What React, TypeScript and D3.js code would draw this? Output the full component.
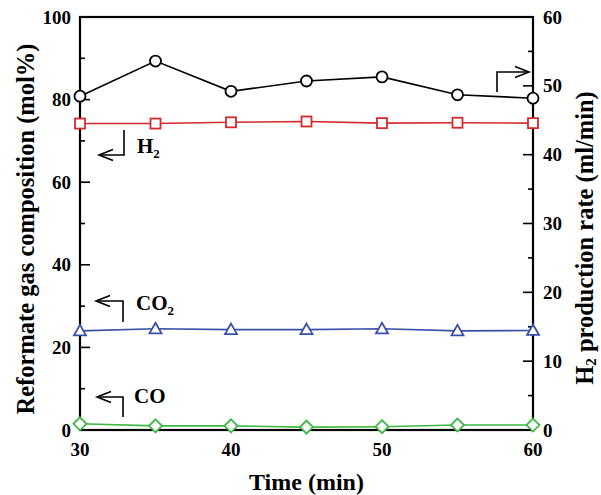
import React from "react";
import * as d3 from "d3";

const times = [30, 35, 40, 45, 50, 55, 60];
const h2Rate = [48.5, 53.6, 49.2, 50.7, 51.3, 48.7, 48.2];
const h2Comp = [74.2, 74.2, 74.5, 74.7, 74.3, 74.4, 74.3];
const co2Comp = [24.0, 24.5, 24.3, 24.3, 24.5, 24.0, 24.1];
const coComp = [1.5, 1.0, 1.0, 0.7, 0.8, 1.2, 1.2];
const xTicks = [30, 40, 50, 60];
const xMinor = [35, 45, 55];
const leftTicks = [0, 20, 40, 60, 80, 100];
const leftMinor = [10, 30, 50, 70, 90];
const rightTicks = [0, 10, 20, 30, 40, 50, 60];
const rightMinor = [5, 15, 25, 35, 45, 55];

const L = 80, R = 533, T = 17, B = 430;
const font = "'Liberation Serif', 'Times New Roman', serif";

export default function App() {
  const x = d3.scaleLinear().domain([30, 60]).range([L, R]);
  const yL = d3.scaleLinear().domain([0, 100]).range([B, T]);
  const yR = d3.scaleLinear().domain([0, 60]).range([B, T]);
  const lineL = (vals: number[]) =>
    d3.line<number>().x((_, i) => x(times[i])).y((d) => yL(d))(vals) || "";
  const lineR = (vals: number[]) =>
    d3.line<number>().x((_, i) => x(times[i])).y((d) => yR(d))(vals) || "";

  const red = "#d42a2f", blue = "#3a50a8", green = "#3db844";

  const arrowHead = (x0: number, y0: number, dir: "left" | "right") => {
    const s = dir === "left" ? 1 : -1;
    return `M${x0 + s * 14},${y0 - 5.5} L${x0},${y0} L${x0 + s * 14},${y0 + 5.5}`;
  };

  return (
    <svg width={601} height={495} style={{ display: "block", position: "absolute", left: 0, top: 0 }}>
      <rect width={601} height={495} fill="#fff" />
      {/* frame */}
      <rect x={L} y={T} width={R - L} height={B - T} fill="none" stroke="#000" strokeWidth={2.2} />
      {/* ticks */}
      {xTicks.map((t) => (
        <line key={"xt" + t} x1={x(t)} x2={x(t)} y1={B} y2={B - 10} stroke="#000" strokeWidth={1.6} />
      ))}
      {xMinor.map((t) => (
        <line key={"xm" + t} x1={x(t)} x2={x(t)} y1={B} y2={B - 5} stroke="#000" strokeWidth={1.6} />
      ))}
      {leftTicks.map((t) => (
        <line key={"lt" + t} x1={L} x2={L + 10} y1={yL(t)} y2={yL(t)} stroke="#000" strokeWidth={1.6} />
      ))}
      {leftMinor.map((t) => (
        <line key={"lm" + t} x1={L} x2={L + 5} y1={yL(t)} y2={yL(t)} stroke="#000" strokeWidth={1.6} />
      ))}
      {rightTicks.map((t) => (
        <line key={"rt" + t} x1={R} x2={R - 10} y1={yR(t)} y2={yR(t)} stroke="#000" strokeWidth={1.6} />
      ))}
      {rightMinor.map((t) => (
        <line key={"rm" + t} x1={R} x2={R - 5} y1={yR(t)} y2={yR(t)} stroke="#000" strokeWidth={1.6} />
      ))}
      {/* tick labels */}
      <g fontFamily={font} fontWeight="bold" fontSize={19} fill="#000">
        {xTicks.map((t) => (
          <text key={"xl" + t} x={x(t)} y={B + 26} textAnchor="middle">{t}</text>
        ))}
        {leftTicks.map((t) => (
          <text key={"ll" + t} x={L - 9} y={yL(t) + 6.5} textAnchor="end">{t}</text>
        ))}
        {rightTicks.map((t) => (
          <text key={"rl" + t} x={R + 10} y={yR(t) + 6.5} textAnchor="start">{t}</text>
        ))}
      </g>
      {/* axis titles */}
      <g fontFamily={font} fontWeight="bold" fontSize={24.5} fill="#000">
        <text x={(L + R) / 2} y={490} textAnchor="middle" fontSize={24}>Time (min)</text>
        <text transform={`translate(34,229) rotate(-90)`} textAnchor="middle">
          Reformate gas composition (mol%)
        </text>
        <text transform={`translate(593,238) rotate(-90)`} textAnchor="middle">
          H<tspan fontSize={15} dy={3}>2</tspan><tspan dy={-3}> production rate (ml/min)</tspan>
        </text>
      </g>
      {/* series */}
      <path d={lineR(h2Rate)} fill="none" stroke="#000" strokeWidth={1.6} />
      <path d={lineL(h2Comp)} fill="none" stroke={red} strokeWidth={1.6} />
      <path d={lineL(co2Comp)} fill="none" stroke={blue} strokeWidth={1.6} />
      <path d={lineL(coComp)} fill="none" stroke={green} strokeWidth={1.6} />
      {h2Rate.map((v, i) => (
        <circle key={"c" + i} cx={x(times[i])} cy={yR(v)} r={5.5} fill="#fff" stroke="#000" strokeWidth={1.8} />
      ))}
      {h2Comp.map((v, i) => (
        <rect key={"s" + i} x={x(times[i]) - 5} y={yL(v) - 5} width={10} height={10} fill="#fff" stroke={red} strokeWidth={1.8} />
      ))}
      {co2Comp.map((v, i) => {
        const cx = x(times[i]), cy = yL(v);
        return (
          <path key={"t" + i} d={`M${cx},${cy - 6} L${cx + 6},${cy + 4.5} L${cx - 6},${cy + 4.5} Z`} fill="#fff" stroke={blue} strokeWidth={1.8} />
        );
      })}
      {coComp.map((v, i) => {
        const cx = x(times[i]), cy = yL(v);
        return (
          <path key={"d" + i} d={`M${cx},${cy - 6.5} L${cx + 6.5},${cy} L${cx},${cy + 6.5} L${cx - 6.5},${cy} Z`} fill="#fff" stroke={green} strokeWidth={1.8} />
        );
      })}
      {/* annotations */}
      <g fill="none" stroke="#000" strokeWidth={1.6}>
        <path d={`M124,130 L124,155 L99,155`} />
        <path d={arrowHead(99, 155, "left")} />
        <path d={`M123,322 L123,301 L96,301`} />
        <path d={arrowHead(96, 301, "left")} />
        <path d={`M123,417 L123,397 L97,397`} />
        <path d={arrowHead(97, 397, "left")} />
        <path d={`M497,92 L497,72 L529,72`} />
        <path d={arrowHead(529, 72, "right")} />
      </g>
      <g fontFamily={font} fontWeight="bold" fontSize={21} fill="#000">
        <text x={137} y={153}>H<tspan fontSize={13} dy={5}>2</tspan></text>
        <text x={136} y={310}>CO<tspan fontSize={13} dy={5}>2</tspan></text>
        <text x={134} y={403}>CO</text>
      </g>
    </svg>
  );
}
